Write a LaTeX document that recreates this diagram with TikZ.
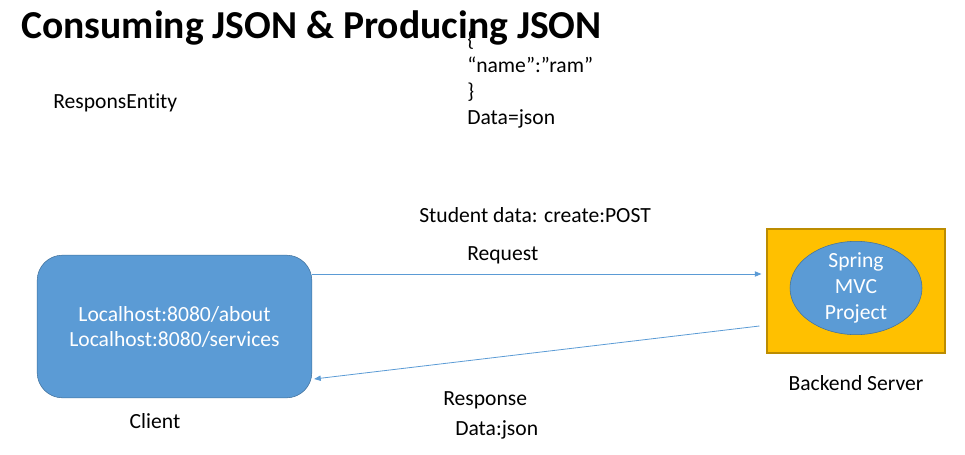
\documentclass[tikz,border=0pt]{standalone}
\usepackage{fontspec}
\setmainfont{Carlito}[Ligatures=NoCommon]
\usetikzlibrary{calc,shapes.geometric,arrows.meta}
\definecolor{boxblue}{HTML}{5B9BD5}
\definecolor{boxedge}{HTML}{41719C}
\definecolor{srvgold}{HTML}{FFC000}
\definecolor{srvedge}{HTML}{BC8C00}
\tikzset{
	txt/.style={font=\fontsize{16.2}{19.5}\selectfont, inner sep=0pt},
	wtxt/.style={txt, text=white, align=center},
	flow/.style={draw=boxblue, line width=0.6pt, -{Triangle[length=5pt,width=4pt]}}
}

\begin{document}
\begin{tikzpicture}[x=0.75pt, y=-0.75pt]
		%%%%% START %%%%%
		\useasboundingbox (0, 0) rectangle (965, 454);
		
		\node[anchor=base west, inner sep=0pt, font=\fontsize{29.7}{34}\selectfont\bfseries] (title) at (21, 38) {Consuming JSON \& Producing JSON};
		
		\node[txt, anchor=base west] (entity) at (53, 108) {ResponsEntity};
		\node[txt, anchor=base west, align=left] (json) at (467, 124) {\{\\“name”:”ram”\\\}\\Data=json};
		
		\node[txt, anchor=base west] (post) at (419, 222) {Student data: create:POST};
		\node[txt, anchor=base west] (req) at (467, 260) {Request};
		
		\node[draw=boxedge, fill=boxblue, rounded corners=19pt, minimum width=206pt, minimum height=107pt, wtxt, font=\fontsize{16.2}{18.8}\selectfont] (client) at (174.5, 326.5) {Localhost:8080/about\\Localhost:8080/services};
		\node[txt, anchor=base] (clientlbl) at (155, 428) {Client};
		
		\node[draw=srvedge, fill=srvgold, minimum width=133.5pt, minimum height=93pt, line width=0.8pt] (server) at (856, 291) {};
		\node[draw=boxedge, fill=boxblue, ellipse, minimum width=99pt, minimum height=70pt, inner sep=0pt] (mvc) at (856, 288) {};
		\node[wtxt, font=\fontsize{16.2}{19.2}\selectfont] (mvctxt) at (mvc) {Spring\\MVC\\Project};
		\node[txt, anchor=base] (srvlbl) at (856, 390) {Backend Server};
		
		\draw[flow] ($(client.east)+(0, -52.5)$) -- ($(server.west)+(-5, -17)$);
		\draw[flow] ($(server.west)+(-7, 35)$) -- ($(client.east)+(2, 52.5)$);
		
		\node[txt, anchor=base west] (resp) at (443, 405) {Response};
		\node[txt, anchor=base west] (respdata) at (455, 435) {Data:json};
		%%%%% END %%%%%
	\end{tikzpicture}
\end{document}
